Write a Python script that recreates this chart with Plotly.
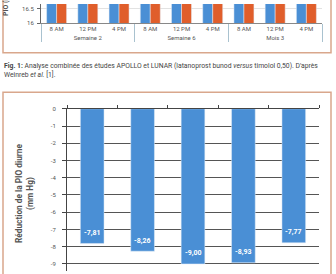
import plotly.graph_objects as go

# ---- data ----
top_groups = ["Semaine 2", "Semaine 6", "Mois 3"]
top_times = ["8 AM", "12 PM", "4 PM"]
top_lbn = [19.2, 18.8, 18.6, 19.0, 18.7, 18.5, 19.1, 18.8, 18.6]
top_tim = [19.9, 19.5, 19.3, 19.8, 19.5, 19.2, 19.9, 19.6, 19.3]
top_yticks = [16, 16.5]

bot_cats = ["A", "B", "C", "D", "E"]
bot_values = [-7.81, -8.26, -9.00, -8.93, -7.77]
bot_labels = ["-7,81", "-8,26", "-9,00", "-8,93", "-7,77"]
bot_yticks = [0, -1, -2, -3, -4, -5, -6, -7, -8, -9]

W, H = 336, 274
def px(x): return x / W
def py(y): return 1 - y / H

BLUE = "#4A8FD5"
ORANGE = "#E05E2B"
BORDER = "#D9A78C"
FONT = "Roboto"

grp = [g for g in top_groups for _ in top_times]
tms = [t for _ in top_groups for t in top_times]

fig = go.Figure()
fig.add_trace(go.Bar(x=[grp, tms], y=top_lbn, marker_color=BLUE, xaxis="x", yaxis="y",
                     name="LBN"))
fig.add_trace(go.Bar(x=[grp, tms], y=top_tim, marker_color=ORANGE, xaxis="x", yaxis="y",
                     name="Timolol"))
fig.add_trace(go.Bar(x=bot_cats, y=bot_values, marker_color=BLUE, xaxis="x2", yaxis="y2",
                     width=0.47, name="Réduction"))

annotations = []
for c, v, t in zip(bot_cats, bot_values, bot_labels):
    annotations.append(dict(x=c, y=v, xref="x2", yref="y2", text="<b>%s</b>" % t,
                            showarrow=False, yanchor="middle", yshift=10.5,
                            font=dict(family=FONT, size=7, color="white")))

annotations += [
    dict(x=px(6), y=py(15), xref="paper", yref="paper", text="<b>PIO (mm Hg)</b>",
         textangle=-90, showarrow=False, xanchor="center", yanchor="bottom",
         font=dict(family=FONT, size=7, color="#555")),
    dict(x=px(2), y=py(57), xref="paper", yref="paper", align="left",
         text="<b>Fig. 1:</b> Analyse combinée des études APOLLO et LUNAR (latanoprost bunod <i>versus</i> timolol 0,50). D'après<br>Weinreb <i>et al.</i> [1].",
         showarrow=False, xanchor="left", yanchor="top",
         font=dict(family=FONT, size=6.8, color="#444")),
    dict(x=px(25), y=py(194), xref="paper", yref="paper",
         text="<b>Réduction de la PIO diurne<br>(mm Hg)</b>",
         textangle=-90, showarrow=False, xanchor="center", yanchor="middle",
         font=dict(family=FONT, size=8.3, color="#555")),
]

shapes = [
    dict(type="rect", xref="paper", yref="paper", x0=px(3), x1=px(331), y0=py(50), y1=1.2,
         line=dict(color=BORDER, width=1.5)),
    dict(type="rect", xref="paper", yref="paper", x0=px(3), x1=px(331), y0=-0.2, y1=py(90.5),
         line=dict(color=BORDER, width=1.5)),
]

top_y0 = 16
top_y1 = 16 + 19.5 / 29.0
bot_zero = 107.5
unit = 17.7
bot_min = -(H - bot_zero) / unit

fig.update_layout(
    width=W, height=H, margin=dict(l=0, r=0, t=0, b=0),
    paper_bgcolor="white", plot_bgcolor="white", showlegend=False,
    barmode="group", bargap=0.36, bargroupgap=0,
    font=dict(family=FONT, size=6, color="#555"),
    xaxis=dict(domain=[px(41), px(322)], anchor="y", type="multicategory",
               showline=True, linecolor="#888", linewidth=1, ticks="",
               showdividers=True, dividercolor="#A9C2CF", dividerwidth=1,
               tickfont=dict(family=FONT, size=6, color="#555"), showgrid=False),
    yaxis=dict(domain=[py(19.5), 1], anchor="x", range=[top_y0, top_y1],
               tickvals=top_yticks, ticktext=["16", "16.5"], showgrid=True,
               gridcolor="#E2E2E2", showline=True, linecolor="#666", ticks="outside",
               ticklen=3, tickcolor="#666", ticklabelstandoff=2,
               tickfont=dict(family=FONT, size=6, color="#555"), zeroline=False),
    xaxis2=dict(domain=[px(67), px(319)], anchor="y2", side="top", type="category",
                showline=True, linecolor="#444", linewidth=1, ticks="outside",
                tickson="boundaries", ticklen=3, tickcolor="#444",
                showticklabels=False, showgrid=False),
    yaxis2=dict(domain=[0, py(bot_zero)], anchor="x2", range=[bot_min, 0],
                tickvals=bot_yticks, ticktext=[str(v) for v in bot_yticks],
                showgrid=True, gridcolor="#555", gridwidth=1, showline=True,
                linecolor="#444", ticks="outside", ticklen=4, tickcolor="#444",
                ticklabelstandoff=5, zeroline=False,
                tickfont=dict(family=FONT, size=6, color="#555")),
    annotations=annotations, shapes=shapes,
)

fig.write_html("out.html")
